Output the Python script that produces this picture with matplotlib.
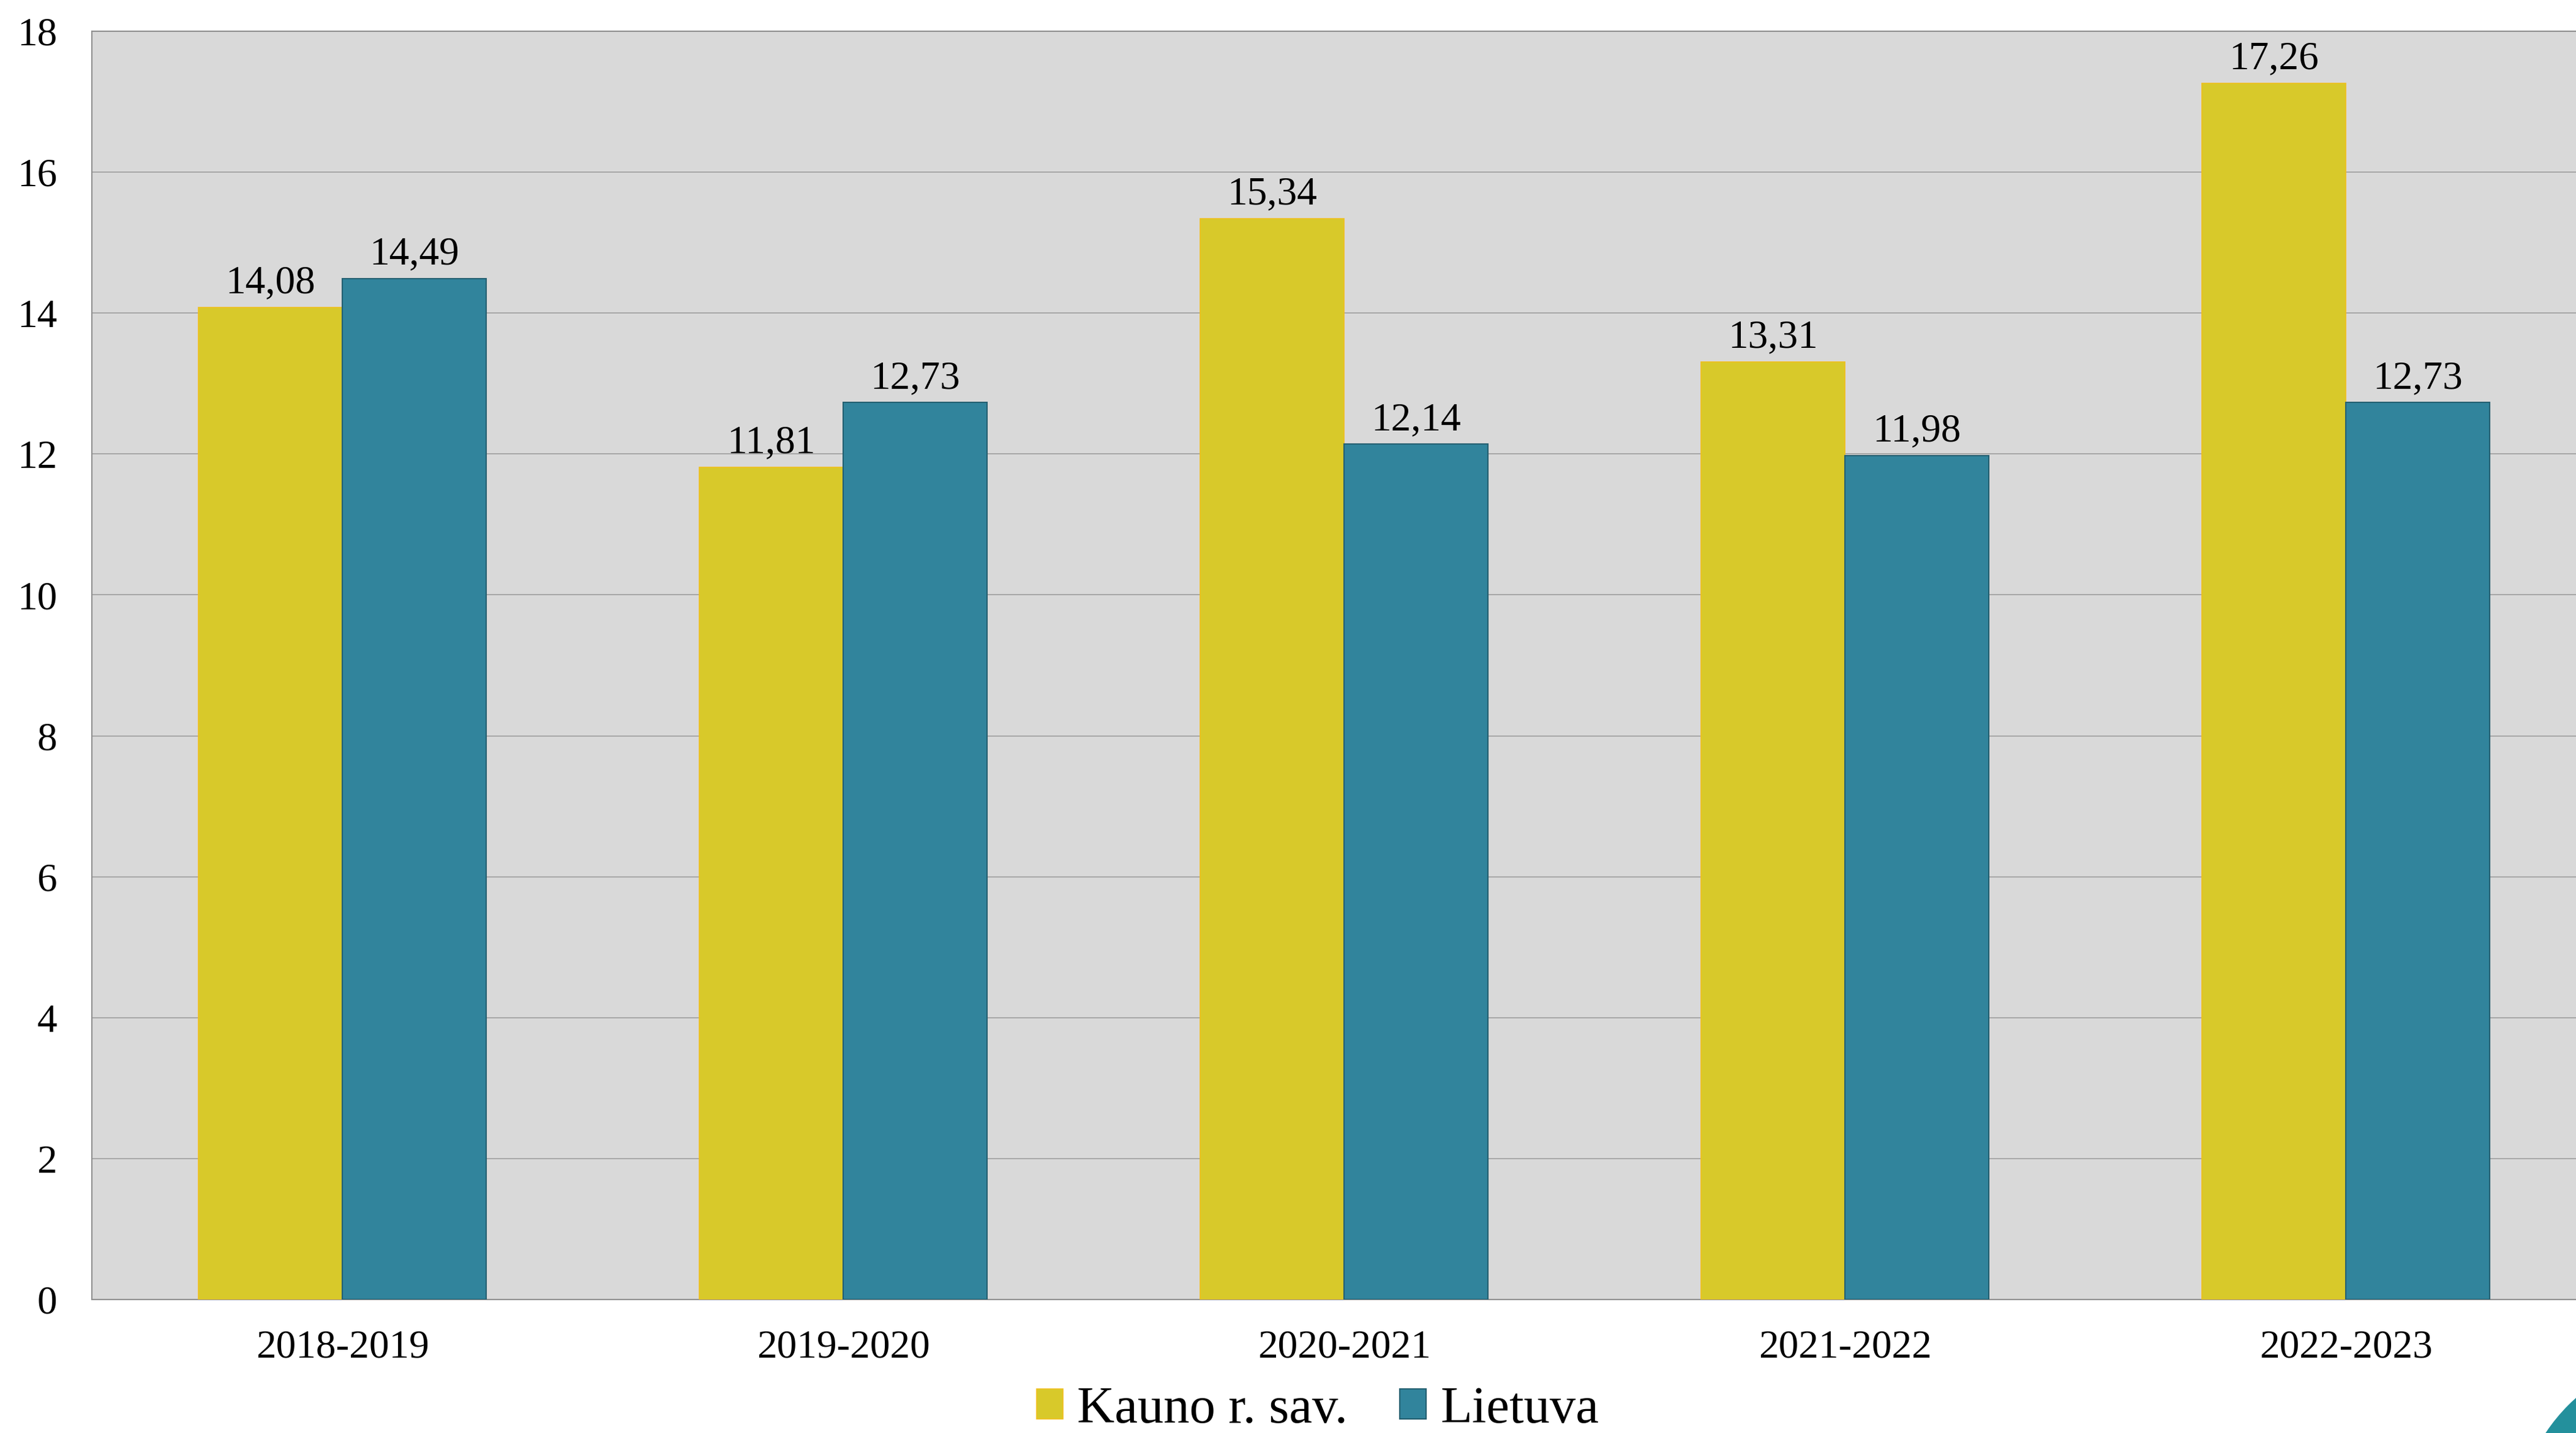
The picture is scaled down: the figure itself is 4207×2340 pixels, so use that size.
import numpy as np
import matplotlib.pyplot as plt
from matplotlib.patches import Ellipse

years = ["2018-2019", "2019-2020", "2020-2021", "2021-2022", "2022-2023"]
kauno = [14.08, 11.81, 15.34, 13.31, 17.26]
lietuva = [14.49, 12.73, 12.14, 11.98, 12.73]
series_names = ["Kauno r. sav.", "Lietuva"]
yticks = [0, 2, 4, 6, 8, 10, 12, 14, 16, 18]

plt.rcParams['font.family'] = ['Liberation Serif', 'DejaVu Serif']

W, H = 4207, 2340
fig = plt.figure(figsize=(W / 100, H / 100), dpi=100)
# axes runs a bit past the right edge, like the cropped original
ax = fig.add_axes([150 / W, (H - 2122) / H, (4240 - 150) / W, (2122 - 51) / H])
ax.set_facecolor('#D9D9D9')

x = np.arange(len(years))
w = 0.287
b1 = ax.bar(x - w / 2, kauno, w, color='#D8C92A', edgecolor='#F0BF1C', linewidth=1.2,
            label=series_names[0], zorder=3)
b2 = ax.bar(x + w / 2, lietuva, w, color='#31849C', edgecolor='#245F70', linewidth=1.5,
            label=series_names[1], zorder=3)

for bars, vals in ((b1, kauno), (b2, lietuva)):
    for rect, v in zip(bars, vals):
        ax.annotate(("%.2f" % v).replace('.', ','),
                    (rect.get_x() + rect.get_width() / 2, v),
                    xytext=(0, 17), textcoords='offset points',
                    ha='center', va='baseline', fontsize=47, zorder=4)

ax.set_xlim(-0.5, 4.5)
ax.set_ylim(0, 18)
ax.set_yticks(yticks)
ax.set_yticklabels([str(t) for t in yticks])
ax.set_xticks(x)
ax.set_xticklabels(years)
ax.tick_params(axis='y', length=0, pad=41, labelsize=47)
ax.tick_params(axis='x', length=0, pad=35, labelsize=47)

ax.yaxis.grid(True, color='#A6A6A6', linewidth=1.4, zorder=0)
ax.set_axisbelow(True)
for s in ('left', 'bottom', 'top'):
    ax.spines[s].set_color('#8F8F8F')
    ax.spines[s].set_linewidth(1.5)
ax.spines['right'].set_visible(False)

fig.legend(handles=[b1, b2], loc='center', bbox_to_anchor=(2152 / W, 0.0162),
           ncol=2, frameon=False, fontsize=61, handlelength=0.51, handleheight=0.51,
           handletextpad=0.27, columnspacing=1.0, borderpad=0)

# teal decoration peeking in at the corner
r = 290
fig.patches.append(Ellipse((4400 / W, -160 / H), 2 * r / W, 2 * r / H,
                           transform=fig.transFigure, color='#23909C', zorder=5))

fig.savefig('out.png', dpi=100)
